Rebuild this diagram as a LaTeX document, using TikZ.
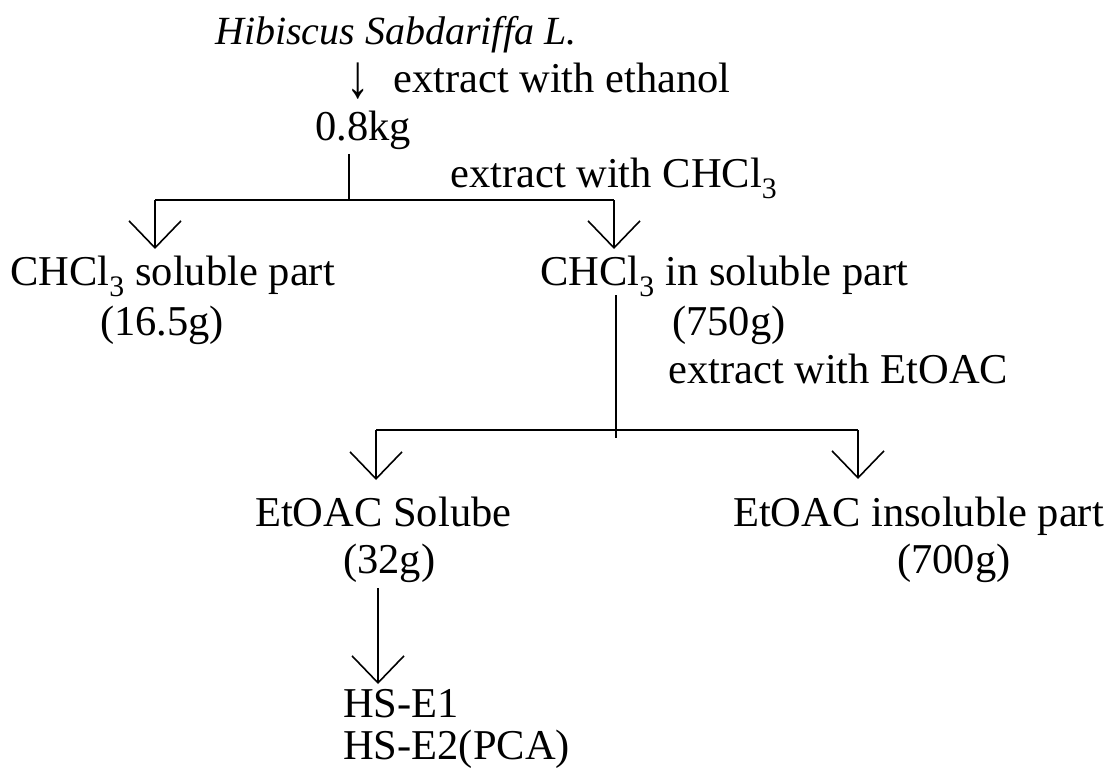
\documentclass[tikz,border=0pt]{standalone}
\usepackage{fontspec}
\usepackage{graphicx}
\setmainfont{Liberation Serif}
\usetikzlibrary{arrows.meta}
\begin{document}
\begin{tikzpicture}[x=1pt,y=-1pt,
  txt/.style={anchor=base west,inner sep=0pt,font=\fontsize{42.5}{48}\selectfont},
  ln/.style={line width=1.6pt,black},
  arr/.style={ln,-{Straight Barb[length=27pt,width=52pt,line width=1.6pt]}}]
\useasboundingbox (0,0) rectangle (1118,778);
% texts
\node[txt,font=\fontsize{40}{46}\selectfont] (title) at (215,45) {\textit{Hibiscus Sabdariffa L.}};
\node[txt,anchor=base] (down) at (358,98) {\scalebox{1.1}[1.45]{↓}};
\node[txt] (eth) at (393,93) {extract with ethanol};
\node[txt] (kg) at (315,141) {0.8kg};
\node[txt] (chl) at (450,187) {extract with CHCl\textsubscript{3}};
\node[txt] (sol) at (10,285) {CHCl\textsubscript{3} soluble part};
\node[txt] (w165) at (100,335) {(16.5g)};
\node[txt] (insol) at (540,285) {CHCl\textsubscript{3} in soluble part};
\node[txt] (w750) at (672,335) {(750g)};
\node[txt] (eta) at (668,383) {extract with EtOAC};
\node[txt] (esol) at (255,526) {EtOAC Solube};
\node[txt] (w32) at (343,573) {(32g)};
\node[txt] (einsol) at (733,526) {EtOAC insoluble part};
\node[txt] (w700) at (897,573) {(700g)};
\node[txt] (hs1) at (343,717) {HS-E1};
\node[txt] (hs2) at (343,759) {HS-E2(PCA)};
% connector points
\coordinate (k0) at (349,154);
\coordinate (k1) at (349,201);
\coordinate (l0) at (155,200);
\coordinate (r0) at (614,200);
\coordinate (lt) at (155,249);
\coordinate (rt) at (614,249);
\coordinate (i0) at (616,295);
\coordinate (i1) at (616,438);
\coordinate (m0) at (376,430);
\coordinate (n0) at (858,430);
\coordinate (mt) at (376,480);
\coordinate (nt) at (858,479);
\coordinate (e0) at (378,588);
\coordinate (et) at (378,684);
% connectors
\draw[ln] (k0) -- (k1);
\draw[ln] (l0) -- (r0);
\draw[arr] (l0) -- (lt);
\draw[arr] (r0) -- (rt);
\draw[ln] (i0) -- (i1);
\draw[ln] (m0) -- (n0);
\draw[arr] (m0) -- (mt);
\draw[arr] (n0) -- (nt);
\draw[arr] (e0) -- (et);
\end{tikzpicture}
\end{document}
